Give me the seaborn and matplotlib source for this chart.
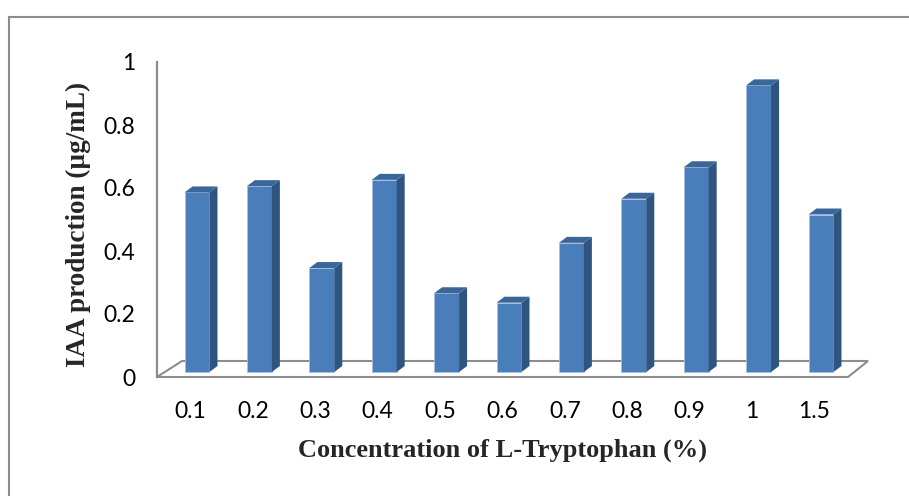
import matplotlib
matplotlib.use("Agg")
import matplotlib.pyplot as plt
from matplotlib.patches import Polygon, Rectangle
from matplotlib.transforms import ScaledTranslation, IdentityTransform
import seaborn as sns
import pandas as pd

# ---- data ----
concentrations = ["0.1", "0.2", "0.3", "0.4", "0.5", "0.6", "0.7", "0.8", "0.9", "1", "1.5"]
iaa_values = [0.57, 0.59, 0.33, 0.61, 0.25, 0.22, 0.41, 0.55, 0.65, 0.91, 0.50]
y_ticks = [0, 0.2, 0.4, 0.6, 0.8, 1]
y_tick_labels = ["0", "0.2", "0.4", "0.6", "0.8", "1"]
x_title = "Concentration of L-Tryptophan (%)"
y_title = "IAA production (µg/mL)"

df = pd.DataFrame({"conc": concentrations, "iaa": iaa_values})

sns.set_style("white")
W, H, DPI = 909, 496, 100
fig = plt.figure(figsize=(W / DPI, H / DPI), dpi=DPI)

# axes placement (pixels from top-left)
ax_l, ax_r, ax_top, ax_bot = 157, 848, 62, 377
ax = fig.add_axes([ax_l / W, (H - ax_bot) / H, (ax_r - ax_l) / W, (ax_bot - ax_top) / H])

front = "#4a7ebb"
side = "#2f5480"
top = "#3b6699"
gray = "#8c8c8c"

sns.barplot(data=df, x="conc", y="iaa", color=front, width=0.40, ax=ax,
            saturation=1, edgecolor="#a9c1e0", linewidth=0.6, zorder=3)

ax.set_xlim(-0.537, 10.537)
ax.set_ylim(0, 1)
ax.set_yticks(y_ticks)
ax.set_yticklabels(y_tick_labels)

for s in ["top", "right", "bottom"]:
    ax.spines[s].set_visible(False)
ax.spines["left"].set_color(gray)
ax.spines["left"].set_linewidth(1.6)
ax.tick_params(axis="y", direction="out", length=4.5, width=1.4, color=gray, pad=11,
               labelsize=16.5, labelcolor="black")
ax.tick_params(axis="x", length=0, pad=17, labelsize=16.5, labelcolor="black")
for lab in ax.get_xticklabels() + ax.get_yticklabels():
    lab.set_fontfamily(["Lato", "DejaVu Sans"])

ax.set_xlabel(x_title, fontfamily="Liberation Serif", fontweight="bold", fontsize=19)
ax.set_ylabel(y_title, fontfamily="Liberation Serif", fontweight="bold", fontsize=19.5)
ax.xaxis.set_label_coords(0.5, (ax_bot - 450) / (ax_bot - ax_top))
ax.xaxis.label.set_va("center")
ax.yaxis.set_label_coords((78 - ax_l) / (ax_r - ax_l), (ax_bot - 224) / (ax_bot - ax_top))
ax.yaxis.label.set_va("center")

fig.canvas.draw()

# shift bars into the middle depth plane and build 3D faces
shift_x, shift_y = 6.5, 5.0     # pixels
depth_x, depth_y = 8.0, 6.0     # pixels
off = ScaledTranslation(shift_x / DPI, shift_y / DPI, fig.dpi_scale_trans)
for p in ax.patches:
    p.set_transform(ax.transData + off)
    x0, y0 = p.get_x(), p.get_y()
    x1, y1 = x0 + p.get_width(), y0 + p.get_height()
    (dx0, dy0) = ax.transData.transform((x0, y0))
    (dx1, dy1) = ax.transData.transform((x1, y1))
    dx0 += shift_x; dx1 += shift_x; dy0 += shift_y; dy1 += shift_y
    top_poly = Polygon([(dx0, dy1), (dx1, dy1), (dx1 + depth_x, dy1 + depth_y), (dx0 + depth_x, dy1 + depth_y)],
                       closed=True, transform=IdentityTransform(), facecolor=top, edgecolor="none", zorder=3)
    side_poly = Polygon([(dx1, dy0), (dx1, dy1), (dx1 + depth_x, dy1 + depth_y), (dx1 + depth_x, dy0 + depth_y)],
                        closed=True, transform=IdentityTransform(), facecolor=side, edgecolor="none", zorder=3)
    ax.add_artist(top_poly)
    ax.add_artist(side_poly)

# floor parallelogram
(fx0, fy0) = ax.transData.transform((ax.get_xlim()[0], 0))
(fx1, _) = ax.transData.transform((ax.get_xlim()[1], 0))
floor = Polygon([(fx0, fy0), (fx1, fy0), (fx1 + 20, fy0 + 16), (fx0 + 25, fy0 + 16)], closed=True,
                transform=IdentityTransform(), facecolor="white", edgecolor=gray, linewidth=1.5, zorder=1)
floor.set_clip_on(False)
ax.add_artist(floor)

# chart-area border
fig.patches.append(Rectangle((9 / W, -0.05), 1.2, (H - 17) / H + 0.05, transform=fig.transFigure,
                             facecolor="none", edgecolor=gray, linewidth=1.5))

fig.savefig("out.png", dpi=DPI)
